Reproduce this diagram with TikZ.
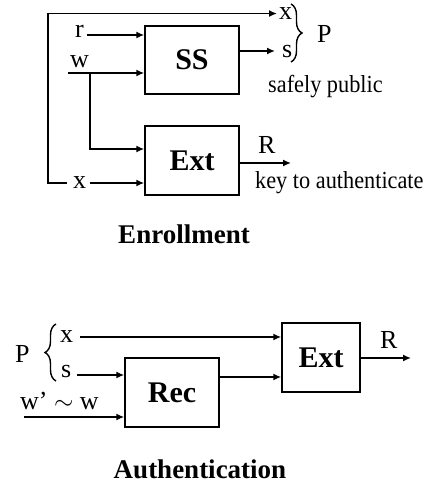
\documentclass[tikz,border=0pt]{standalone}
\usepackage{fontspec}
\setmainfont{Liberation Serif}
\newfontfamily\narrowserif[FakeStretch=0.91]{Liberation Serif}
\usetikzlibrary{arrows.meta,decorations.pathreplacing}
\begin{document}
\begin{tikzpicture}[x=1pt,y=-1pt,
  blk/.style={draw,line width=1.5pt,inner sep=0pt,font=\fontsize{30}{32}\selectfont\bfseries},
  lbl/.style={inner sep=0pt,anchor=base west,font=\fontsize{26}{28}\selectfont},
  txt/.style={inner sep=0pt,anchor=base west,font=\narrowserif\fontsize{24.5}{26}\selectfont},
  arr/.style={line width=1.5pt,-{Latex[length=8pt,width=7pt]}},
  ln/.style={line width=1.4pt},
  ttl/.style={inner sep=0pt,anchor=base,font=\fontsize{27}{29}\selectfont\bfseries}]
\useasboundingbox (0,0) rectangle (435,485);
% ---------- Enrollment ----------
\node[blk,minimum width=94pt,minimum height=68pt] (SS) at (192,60) {SS};
\node[blk,minimum width=94pt,minimum height=69pt] (E1) at (192,160.5) {Ext};
\node[lbl] (r) at (75,37) {r};
\node[lbl] (w) at (70,67) {w};
\node[lbl] (xl) at (73,188) {x};
\node[lbl] (xt) at (279,19.5) {x};
\node[lbl] (s) at (282,57) {s};
\node[lbl] (P1) at (317,42) {P};
\node[txt] (sp) at (268,92) {safely public};
\node[lbl] (R1) at (258,153) {R};
\node[txt] (key) at (255,188) {key to authenticate};
\node[ttl] (enr) at (184,243) {Enrollment};
\coordinate (r0) at (87,35);
\coordinate (w0) at (68,73);
\coordinate (wb) at (90,73);
\coordinate (x0) at (90,183);
\coordinate (xc) at (67,183);
\coordinate (o1) at (291,163);
\draw[arr] (r0) -- (r0 -| SS.west);
\draw[arr] (w0) -- (w0 -| SS.west);
\draw[arr] (wb) |- ([yshift=11.5pt]E1.west);
\draw[arr] (x0) -- (x0 -| E1.west);
\draw[arr,shorten >=2pt] (xc) -- ++(-19,0) |- (xt.west);
\draw[arr,shorten >=7pt] (SS.east |- s.west) -- (s.west);
\draw[arr] (E1.east |- o1) -- (o1);
\draw[ln,decorate,decoration={brace,amplitude=11pt}] (291,4) -- (291,62);
% ---------- Authentication ----------
\node[blk,minimum width=78pt,minimum height=69pt] (E2) at (321,357.5) {Ext};
\node[blk,minimum width=94pt,minimum height=69pt] (Rec) at (172,392.5) {Rec};
\node[lbl] (x2) at (60,342) {x};
\node[lbl] (s2) at (61,377) {s};
\node[lbl] (P2) at (15,362) {P};
\node[lbl] (wp) at (20,409) {w\symbol{39} $\sim$ w};
\node[lbl] (R2) at (380,348) {R};
\node[ttl] (auth) at (200,478) {Authentication};
\coordinate (x20) at (80,337);
\coordinate (s20) at (77,375);
\coordinate (wpin) at (24,417);
\coordinate (rc) at (219,377);
\coordinate (o2) at (411,358);
\draw[arr] (x20) -- (x20 -| E2.west);
\draw[arr] (s20) -- (s20 -| Rec.west);
\draw[arr] (wpin) -- (wpin -| Rec.west);
\draw[arr] (rc) -- (rc -| E2.west);
\draw[arr] (E2.east |- o2) -- (o2);
\draw[ln,decorate,decoration={brace,amplitude=11pt}] (56,381) -- (56,324);
\end{tikzpicture}
\end{document}
